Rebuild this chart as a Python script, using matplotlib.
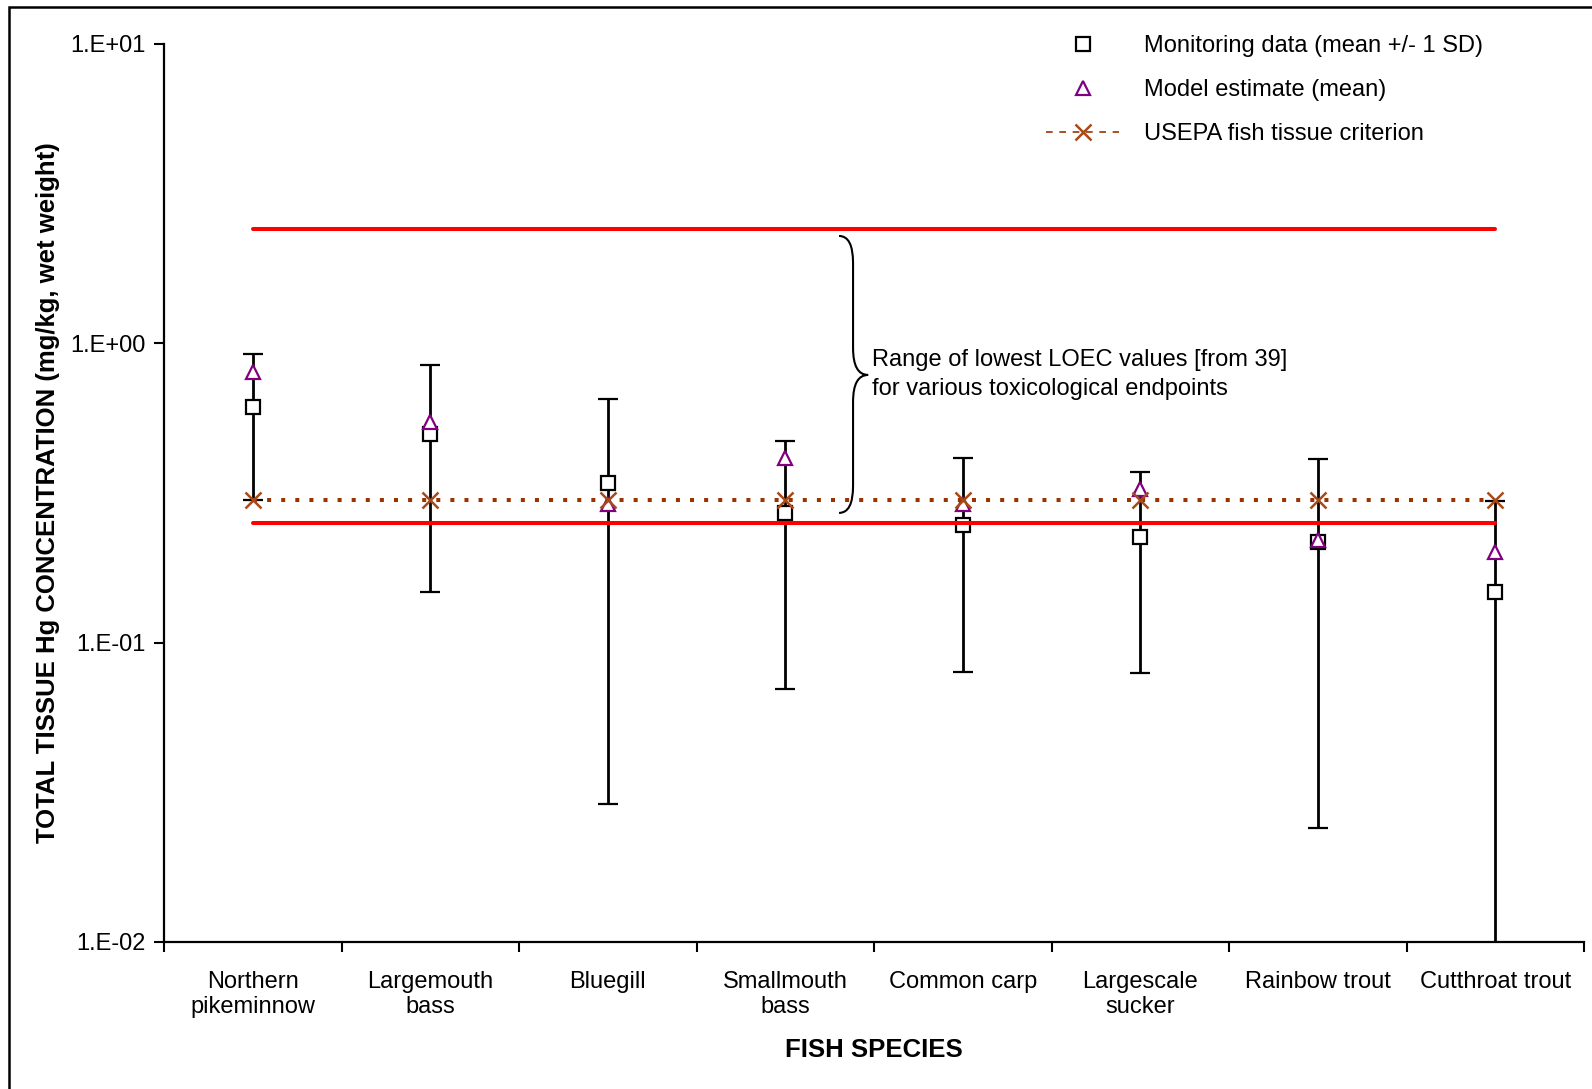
import numpy as np
import matplotlib
matplotlib.use("Agg")
import matplotlib.pyplot as plt
from matplotlib.lines import Line2D
from matplotlib.path import Path
from matplotlib.patches import PathPatch, Rectangle

species = ["Northern\npikeminnow", "Largemouth\nbass", "Bluegill", "Smallmouth\nbass",
           "Common carp", "Largescale\nsucker", "Rainbow trout", "Cutthroat trout"]
monitor_mean = [0.61, 0.496, 0.34, 0.27, 0.247, 0.225, 0.217, 0.148]
monitor_sd = [0.31, 0.349, 0.311, 0.20, 0.167, 0.146, 0.193, 0.15]
model_mean = [0.80, 0.546, 0.29, 0.412, 0.29, 0.325, 0.22, 0.20]
usepa_criterion = [0.3] * 8
loec_low = [0.25] * 8
loec_high = [2.4] * 8
ytick_vals = [0.01, 0.1, 1.0, 10.0]
ytick_labels = ["1.E-02", "1.E-01", "1.E+00", "1.E+01"]

plt.rcParams["font.family"] = ["Liberation Sans", "DejaVu Sans"]

W, H = 1592, 1089
fig = plt.figure(figsize=(W / 100, H / 100), dpi=100)
ax = fig.add_axes([164 / W, 1 - 942 / H, (1584 - 164) / W, (942 - 43.7) / H])

x = np.arange(len(species))
mean = np.array(monitor_mean)
sd = np.array(monitor_sd)
lower = np.maximum(mean - sd, 1e-5)
upper = mean + sd

ax.errorbar(x, mean, yerr=[mean - lower, upper - mean], fmt="s", ms=10.5,
            mfc="white", mec="black", mew=1.6, ecolor="black", elinewidth=2.0,
            capsize=7, capthick=2.0, color="black", zorder=3)
ax.plot(x, model_mean, linestyle="none", marker="^", ms=10.5, mfc="white",
        mec="#800080", mew=1.6, zorder=4)
ax.plot(x, usepa_criterion, color="#993300", lw=2.9, linestyle=(0, (1, 2.5)),
        dash_capstyle="butt", zorder=5)
ax.plot(x, usepa_criterion, linestyle="none", marker="x", ms=12, mec="#A84A1A",
        mew=1.8, zorder=6)
ax.plot(x, loec_low, color="#FF0000", lw=2.9, solid_capstyle="round", zorder=7)
ax.plot(x, loec_high, color="#FF0000", lw=2.9, solid_capstyle="round", zorder=7)

ax.set_yscale("log")
ax.set_ylim(0.01, 10)
ax.set_xlim(-0.5, len(species) - 0.5)
ax.set_yticks(ytick_vals)
ax.set_yticklabels(ytick_labels)
ax.yaxis.set_minor_locator(matplotlib.ticker.NullLocator())
ax.set_xticks(np.arange(-0.5, len(species), 1.0))
ax.set_xticklabels([])
ax.set_xticks(x, minor=True)
ax.set_xticklabels(species, minor=True, fontsize=17, linespacing=1.15)
ax.tick_params(axis="x", which="minor", length=0, pad=21)
ax.tick_params(axis="x", which="major", length=7, width=1.5, direction="out")
ax.tick_params(axis="y", which="major", length=7, width=1.5, direction="out",
               labelsize=17, pad=6)
for s in ["top", "right"]:
    ax.spines[s].set_visible(False)
for s in ["left", "bottom"]:
    ax.spines[s].set_linewidth(1.6)

ax.set_xlabel("FISH SPECIES", fontsize=18.5, fontweight="bold")
ax.xaxis.set_label_coords(0.5, -0.107)
ax.set_ylabel("TOTAL TISSUE Hg CONCENTRATION (mg/kg, wet weight)", fontsize=18.5,
              fontweight="bold")
ax.yaxis.set_label_coords(-0.073, 0.5)

# brace annotation (axes-fraction coordinates derived from data)
def to_ax(xc, yv):
    return (xc + 0.5) / len(species), (np.log10(yv) + 2) / 3

xl, yt = to_ax(3.303, 2.28)
xs, ym = to_ax(3.382, 0.783)
xt, yb = to_ax(3.467, 0.271)
r = 0.03
verts = [(xl, yt), (xs, yt), (xs, yt - r), (xs, ym + r), (xs, ym), (xt, ym),
         (xs, ym), (xs, ym - r), (xs, yb + r), (xs, yb), (xl, yb)]
codes = [Path.MOVETO, Path.CURVE3, Path.CURVE3, Path.LINETO, Path.CURVE3, Path.CURVE3,
         Path.CURVE3, Path.CURVE3, Path.LINETO, Path.CURVE3, Path.CURVE3]
ax.add_patch(PathPatch(Path(verts, codes), fill=False, lw=1.5, ec="black",
                       transform=ax.transAxes, zorder=8))
tx, ty = to_ax(3.49, 0.786)
ax.text(tx, ty, "Range of lowest LOEC values [from 39]\nfor various toxicological endpoints",
        transform=ax.transAxes, fontsize=17, va="center", ha="left", linespacing=1.4)

handles = [
    Line2D([], [], linestyle="none", marker="s", ms=10.5, mfc="white", mec="black", mew=1.6),
    Line2D([], [], linestyle="none", marker="^", ms=10.5, mfc="white", mec="#800080", mew=1.6),
    Line2D([], [], color="#993300", lw=1.2, linestyle=(0, (4, 4)), marker="x", ms=12,
           mec="#A84A1A", mew=1.8),
]
labels = ["Monitoring data (mean +/- 1 SD)", "Model estimate (mean)", "USEPA fish tissue criterion"]
fig.legend(handles, labels, loc="upper left", bbox_to_anchor=(1046 / W, 1 - 35 / H),
           frameon=False, fontsize=17, handlelength=3.1, handletextpad=1.05,
           labelspacing=0.93, borderpad=0, borderaxespad=0, numpoints=1)

fig.add_artist(Rectangle((9 / W, -0.2), 1.5, 1 - 7 / H + 0.2, transform=fig.transFigure,
                         fill=False, ec="black", lw=1.8))

fig.savefig("out.png", dpi=100)
